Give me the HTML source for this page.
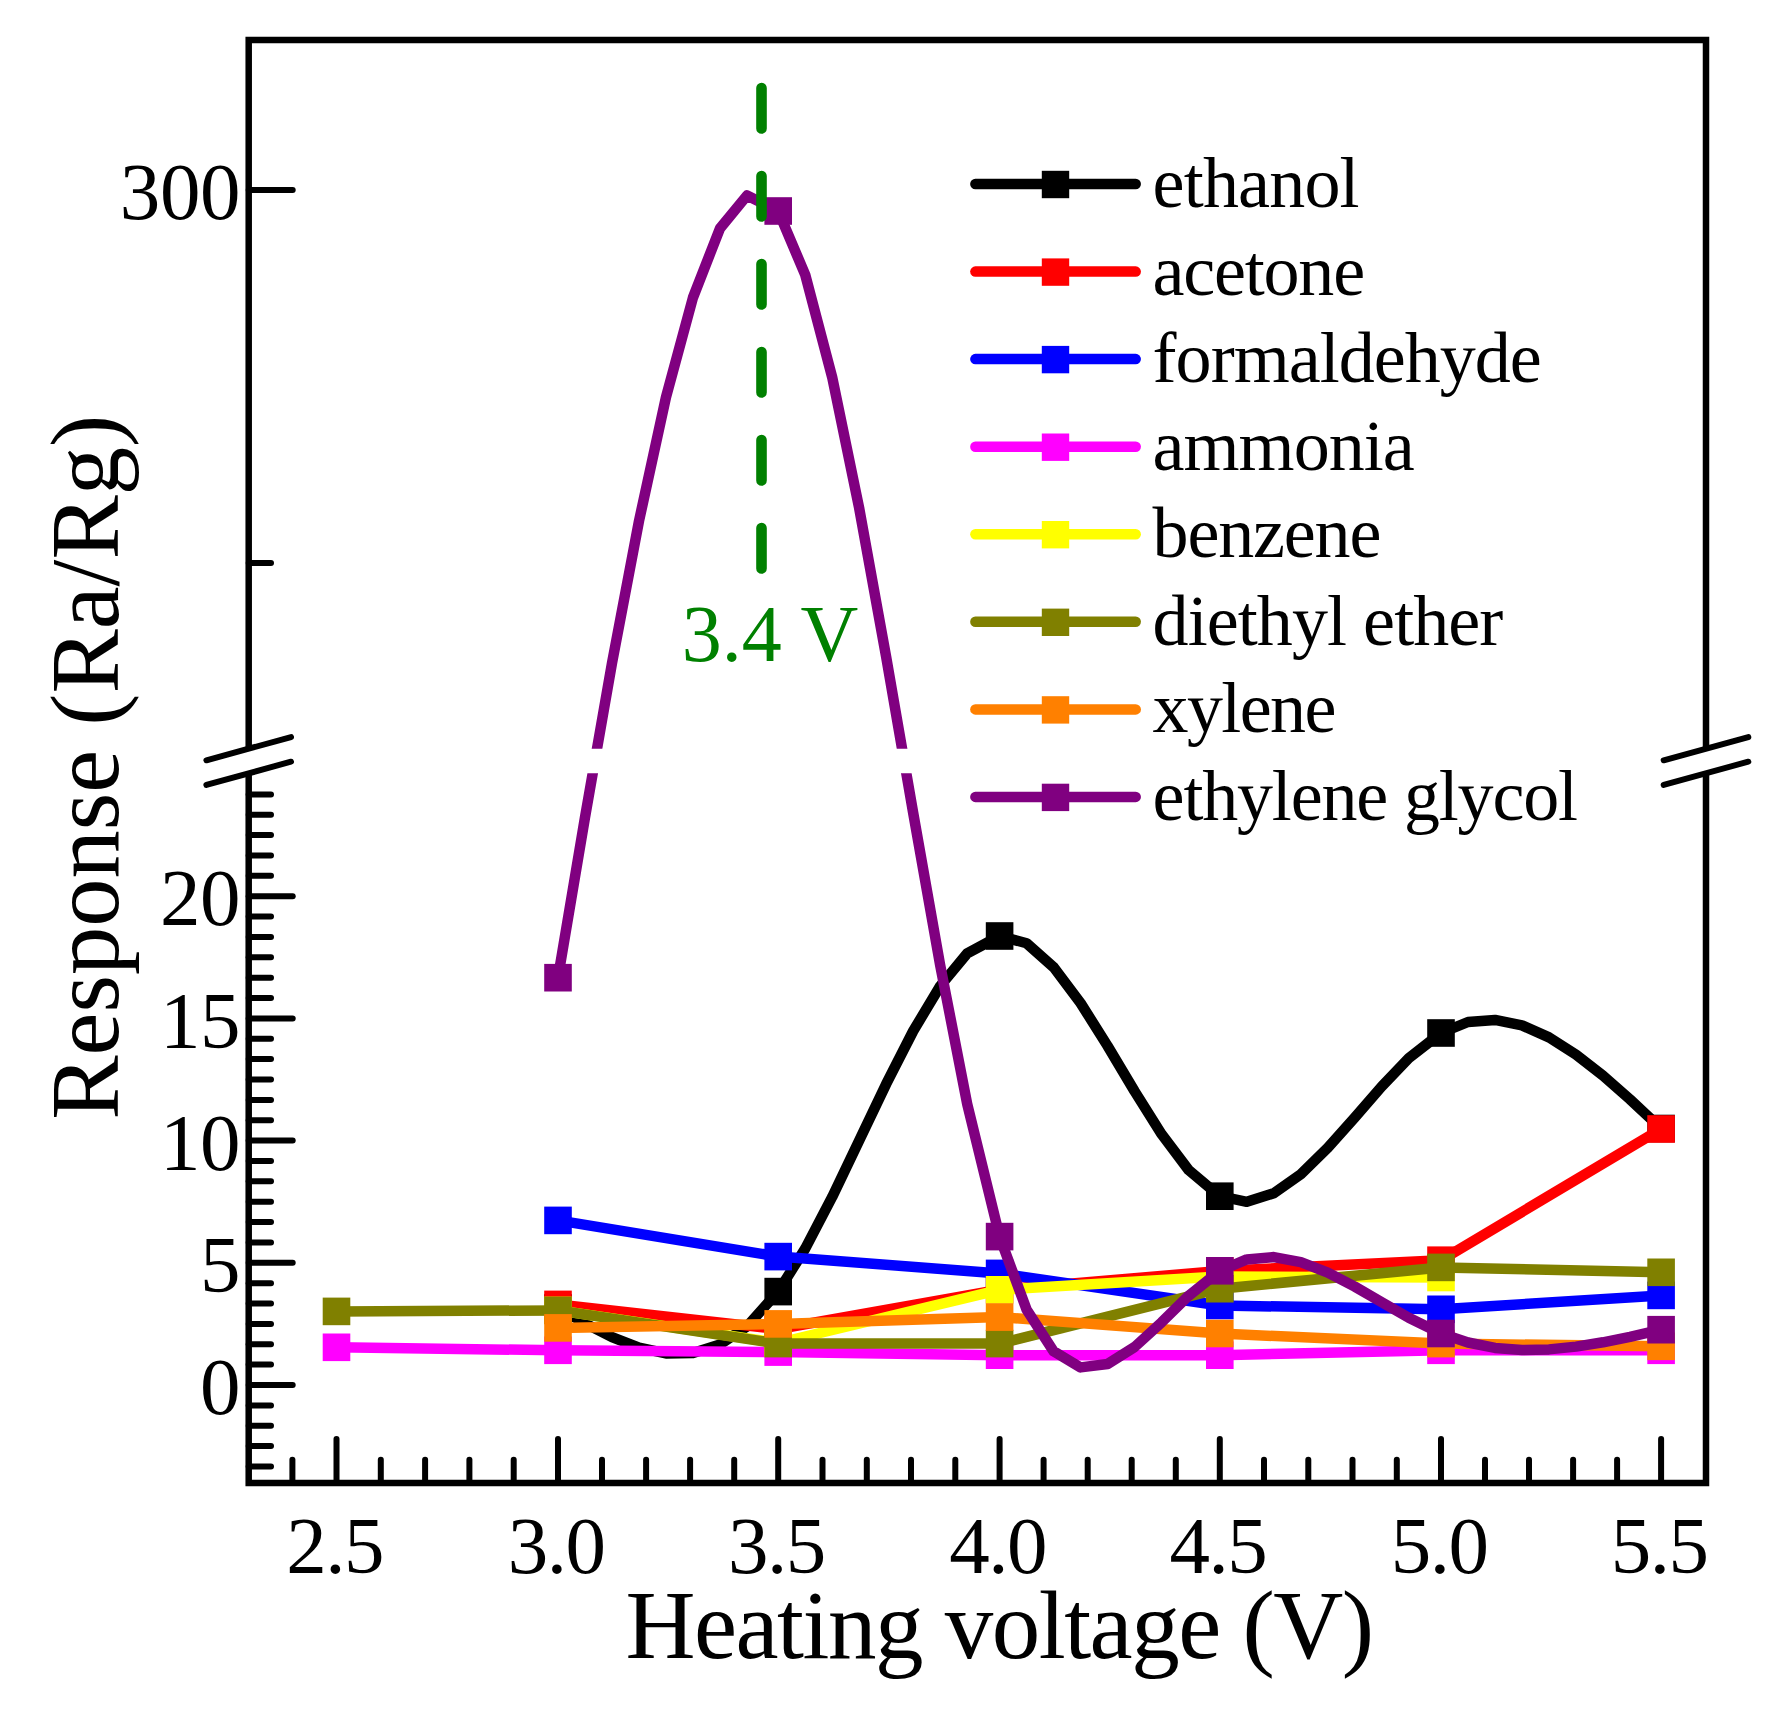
<!DOCTYPE html>
<html lang="en"><head><meta charset="utf-8"><title>Response vs heating voltage</title>
<style>html,body{margin:0;padding:0;background:#fff}svg{display:block}</style></head>
<body>
<svg width="1785" height="1709" viewBox="0 0 1785 1709" style="display:block">
<rect width="1785" height="1709" fill="#fff"/>
<defs><clipPath id="cp"><rect x="248.7" y="40.0" width="1457.3" height="708.7"/><rect x="248.7" y="773.3" width="1457.3" height="709.7"/></clipPath></defs>
<g clip-path="url(#cp)">
<polyline points="558.0,1308.0 585.0,1323.3 612.0,1337.1 639.0,1347.6 666.0,1353.4 693.0,1352.9 720.0,1344.4 747.0,1326.4 778.2,1291.6 805.2,1248.6 832.2,1196.9 859.2,1140.6 886.2,1083.9 913.2,1031.0 940.2,986.0 967.2,953.3 999.6,936.0 1026.6,943.3 1053.6,967.2 1080.6,1003.1 1107.6,1046.0 1134.6,1091.3 1161.6,1134.2 1188.6,1170.0 1219.8,1196.2 1246.8,1201.8 1273.8,1193.3 1300.8,1174.2 1327.8,1147.7 1354.8,1117.4 1381.8,1086.4 1408.8,1058.2 1441.0,1033.0 1468.0,1022.0 1495.0,1019.9 1522.0,1025.4 1549.0,1037.4 1576.0,1054.6 1603.0,1075.6 1630.0,1099.4 1661.1,1128.5" fill="none" stroke="#000000" stroke-width="10.5" stroke-linejoin="round" stroke-linecap="butt"/>
<rect x="544.2" y="1294.2" width="27.6" height="27.6" fill="#000000"/>
<rect x="764.4" y="1277.8" width="27.6" height="27.6" fill="#000000"/>
<rect x="985.8" y="922.2" width="27.6" height="27.6" fill="#000000"/>
<rect x="1206.0" y="1182.4" width="27.6" height="27.6" fill="#000000"/>
<rect x="1427.2" y="1019.2" width="27.6" height="27.6" fill="#000000"/>
<rect x="1647.3" y="1114.7" width="27.6" height="27.6" fill="#000000"/>
<polyline points="558.0,1304.4 778.2,1329.0 999.6,1289.6 1219.8,1271.0 1441.0,1260.2 1661.1,1129.0" fill="none" stroke="#ff0000" stroke-width="10.5" stroke-linejoin="round" stroke-linecap="butt"/>
<rect x="544.2" y="1290.6" width="27.6" height="27.6" fill="#ff0000"/>
<rect x="764.4" y="1315.2" width="27.6" height="27.6" fill="#ff0000"/>
<rect x="985.8" y="1275.8" width="27.6" height="27.6" fill="#ff0000"/>
<rect x="1206.0" y="1257.2" width="27.6" height="27.6" fill="#ff0000"/>
<rect x="1427.2" y="1246.4" width="27.6" height="27.6" fill="#ff0000"/>
<rect x="1647.3" y="1115.2" width="27.6" height="27.6" fill="#ff0000"/>
<polyline points="558.0,1220.4 778.2,1256.6 999.6,1273.4 1219.8,1305.5 1441.0,1309.3 1661.1,1295.4" fill="none" stroke="#0000ff" stroke-width="10.5" stroke-linejoin="round" stroke-linecap="butt"/>
<rect x="544.2" y="1206.6" width="27.6" height="27.6" fill="#0000ff"/>
<rect x="764.4" y="1242.8" width="27.6" height="27.6" fill="#0000ff"/>
<rect x="985.8" y="1259.6" width="27.6" height="27.6" fill="#0000ff"/>
<rect x="1206.0" y="1291.7" width="27.6" height="27.6" fill="#0000ff"/>
<rect x="1427.2" y="1295.5" width="27.6" height="27.6" fill="#0000ff"/>
<rect x="1647.3" y="1281.6" width="27.6" height="27.6" fill="#0000ff"/>
<polyline points="336.5,1347.3 558.0,1350.3 778.2,1352.1 999.6,1355.2 1219.8,1355.2 1441.0,1350.3 1661.1,1350.3" fill="none" stroke="#ff00ff" stroke-width="10.5" stroke-linejoin="round" stroke-linecap="butt"/>
<rect x="322.7" y="1333.5" width="27.6" height="27.6" fill="#ff00ff"/>
<rect x="544.2" y="1336.5" width="27.6" height="27.6" fill="#ff00ff"/>
<rect x="764.4" y="1338.3" width="27.6" height="27.6" fill="#ff00ff"/>
<rect x="985.8" y="1341.4" width="27.6" height="27.6" fill="#ff00ff"/>
<rect x="1206.0" y="1341.4" width="27.6" height="27.6" fill="#ff00ff"/>
<rect x="1427.2" y="1336.5" width="27.6" height="27.6" fill="#ff00ff"/>
<rect x="1647.3" y="1336.5" width="27.6" height="27.6" fill="#ff00ff"/>
<polyline points="558.0,1310.4 778.2,1343.0 999.6,1289.8 1219.8,1276.5 1441.0,1277.5" fill="none" stroke="#ffff00" stroke-width="10.5" stroke-linejoin="round" stroke-linecap="butt"/>
<rect x="544.2" y="1296.6" width="27.6" height="27.6" fill="#ffff00"/>
<rect x="764.4" y="1329.2" width="27.6" height="27.6" fill="#ffff00"/>
<rect x="985.8" y="1276.0" width="27.6" height="27.6" fill="#ffff00"/>
<rect x="1206.0" y="1262.7" width="27.6" height="27.6" fill="#ffff00"/>
<rect x="1427.2" y="1263.7" width="27.6" height="27.6" fill="#ffff00"/>
<polyline points="336.5,1311.4 558.0,1310.4 778.2,1343.6 999.6,1343.6 1219.8,1288.7 1441.0,1267.4 1661.1,1272.3" fill="none" stroke="#808000" stroke-width="10.5" stroke-linejoin="round" stroke-linecap="butt"/>
<rect x="322.7" y="1297.6" width="27.6" height="27.6" fill="#808000"/>
<rect x="544.2" y="1296.6" width="27.6" height="27.6" fill="#808000"/>
<rect x="764.4" y="1329.8" width="27.6" height="27.6" fill="#808000"/>
<rect x="985.8" y="1329.8" width="27.6" height="27.6" fill="#808000"/>
<rect x="1206.0" y="1274.9" width="27.6" height="27.6" fill="#808000"/>
<rect x="1427.2" y="1253.6" width="27.6" height="27.6" fill="#808000"/>
<rect x="1647.3" y="1258.5" width="27.6" height="27.6" fill="#808000"/>
<polyline points="558.0,1327.9 778.2,1323.9 999.6,1317.1 1219.8,1333.5 1441.0,1343.6 1661.1,1346.3" fill="none" stroke="#ff8000" stroke-width="10.5" stroke-linejoin="round" stroke-linecap="butt"/>
<rect x="544.2" y="1314.1" width="27.6" height="27.6" fill="#ff8000"/>
<rect x="764.4" y="1310.1" width="27.6" height="27.6" fill="#ff8000"/>
<rect x="985.8" y="1303.3" width="27.6" height="27.6" fill="#ff8000"/>
<rect x="1206.0" y="1319.7" width="27.6" height="27.6" fill="#ff8000"/>
<rect x="1427.2" y="1329.8" width="27.6" height="27.6" fill="#ff8000"/>
<rect x="1647.3" y="1332.5" width="27.6" height="27.6" fill="#ff8000"/>
<polyline points="558.0,977.7 585.0,817.4 612.0,663.1 639.0,521.0 666.0,397.1 693.0,297.5 720.0,228.3 747.0,195.5 778.2,211.0 805.2,274.7 832.2,377.3 859.2,508.3 886.2,657.1 913.2,813.0 940.2,965.4 967.2,1103.9 999.6,1236.6 1026.6,1309.6 1053.6,1351.3 1080.6,1367.4 1107.6,1364.0 1134.6,1347.0 1161.6,1322.3 1188.6,1295.8 1219.8,1270.8 1246.8,1259.4 1273.8,1257.1 1300.8,1262.1 1327.8,1272.6 1354.8,1286.6 1381.8,1302.3 1408.8,1317.8 1441.0,1333.5 1468.0,1342.5 1495.0,1347.9 1522.0,1350.0 1549.0,1349.4 1576.0,1346.6 1603.0,1342.3 1630.0,1336.8 1661.1,1329.7" fill="none" stroke="#800080" stroke-width="10.5" stroke-linejoin="round" stroke-linecap="butt"/>
<rect x="544.2" y="963.9" width="27.6" height="27.6" fill="#800080"/>
<rect x="764.4" y="197.2" width="27.6" height="27.6" fill="#800080"/>
<rect x="985.8" y="1222.8" width="27.6" height="27.6" fill="#800080"/>
<rect x="1206.0" y="1257.0" width="27.6" height="27.6" fill="#800080"/>
<rect x="1427.2" y="1319.7" width="27.6" height="27.6" fill="#800080"/>
<rect x="1647.3" y="1315.9" width="27.6" height="27.6" fill="#800080"/>
</g>
<line x1="761.5" y1="88.1" x2="761.5" y2="568.6" stroke="#008000" stroke-width="10.6" stroke-linecap="round" stroke-dasharray="40.4 47.6"/>
<g stroke="#000" stroke-width="6.5" fill="none" stroke-linecap="butt">
<path d="M248.7 748.7 V40.0 H1706.0 V748.7" stroke-linejoin="miter"/>
<path d="M248.7 773.3 V1483.0 H1706.0 V773.3" stroke-linejoin="miter"/>
</g>
<g stroke="#000" stroke-width="6" stroke-linecap="round">
<line x1="336.5" y1="1483.0" x2="336.5" y2="1439.0"/>
<line x1="380.8" y1="1483.0" x2="380.8" y2="1459.7"/>
<line x1="425.1" y1="1483.0" x2="425.1" y2="1459.7"/>
<line x1="469.4" y1="1483.0" x2="469.4" y2="1459.7"/>
<line x1="513.7" y1="1483.0" x2="513.7" y2="1459.7"/>
<line x1="558.0" y1="1483.0" x2="558.0" y2="1439.0"/>
<line x1="602.0" y1="1483.0" x2="602.0" y2="1459.7"/>
<line x1="646.1" y1="1483.0" x2="646.1" y2="1459.7"/>
<line x1="690.1" y1="1483.0" x2="690.1" y2="1459.7"/>
<line x1="734.2" y1="1483.0" x2="734.2" y2="1459.7"/>
<line x1="778.2" y1="1483.0" x2="778.2" y2="1439.0"/>
<line x1="822.5" y1="1483.0" x2="822.5" y2="1459.7"/>
<line x1="866.8" y1="1483.0" x2="866.8" y2="1459.7"/>
<line x1="911.0" y1="1483.0" x2="911.0" y2="1459.7"/>
<line x1="955.3" y1="1483.0" x2="955.3" y2="1459.7"/>
<line x1="999.6" y1="1483.0" x2="999.6" y2="1439.0"/>
<line x1="1043.6" y1="1483.0" x2="1043.6" y2="1459.7"/>
<line x1="1087.7" y1="1483.0" x2="1087.7" y2="1459.7"/>
<line x1="1131.7" y1="1483.0" x2="1131.7" y2="1459.7"/>
<line x1="1175.8" y1="1483.0" x2="1175.8" y2="1459.7"/>
<line x1="1219.8" y1="1483.0" x2="1219.8" y2="1439.0"/>
<line x1="1264.0" y1="1483.0" x2="1264.0" y2="1459.7"/>
<line x1="1308.3" y1="1483.0" x2="1308.3" y2="1459.7"/>
<line x1="1352.5" y1="1483.0" x2="1352.5" y2="1459.7"/>
<line x1="1396.8" y1="1483.0" x2="1396.8" y2="1459.7"/>
<line x1="1441.0" y1="1483.0" x2="1441.0" y2="1439.0"/>
<line x1="1485.0" y1="1483.0" x2="1485.0" y2="1459.7"/>
<line x1="1529.0" y1="1483.0" x2="1529.0" y2="1459.7"/>
<line x1="1573.1" y1="1483.0" x2="1573.1" y2="1459.7"/>
<line x1="1617.1" y1="1483.0" x2="1617.1" y2="1459.7"/>
<line x1="1661.1" y1="1483.0" x2="1661.1" y2="1439.0"/>
<line x1="292.4" y1="1483.0" x2="292.4" y2="1459.7"/>
<line x1="248.7" y1="1466.5" x2="271.0" y2="1466.5"/>
<line x1="248.7" y1="1446.1" x2="271.0" y2="1446.1"/>
<line x1="248.7" y1="1425.7" x2="271.0" y2="1425.7"/>
<line x1="248.7" y1="1405.4" x2="271.0" y2="1405.4"/>
<line x1="248.7" y1="1385.0" x2="292.7" y2="1385.0"/>
<line x1="248.7" y1="1364.6" x2="271.0" y2="1364.6"/>
<line x1="248.7" y1="1344.3" x2="271.0" y2="1344.3"/>
<line x1="248.7" y1="1323.9" x2="271.0" y2="1323.9"/>
<line x1="248.7" y1="1303.5" x2="271.0" y2="1303.5"/>
<line x1="248.7" y1="1283.2" x2="271.0" y2="1283.2"/>
<line x1="248.7" y1="1262.8" x2="292.7" y2="1262.8"/>
<line x1="248.7" y1="1242.4" x2="271.0" y2="1242.4"/>
<line x1="248.7" y1="1222.1" x2="271.0" y2="1222.1"/>
<line x1="248.7" y1="1201.7" x2="271.0" y2="1201.7"/>
<line x1="248.7" y1="1181.3" x2="271.0" y2="1181.3"/>
<line x1="248.7" y1="1161.0" x2="271.0" y2="1161.0"/>
<line x1="248.7" y1="1140.6" x2="292.7" y2="1140.6"/>
<line x1="248.7" y1="1120.2" x2="271.0" y2="1120.2"/>
<line x1="248.7" y1="1099.9" x2="271.0" y2="1099.9"/>
<line x1="248.7" y1="1079.5" x2="271.0" y2="1079.5"/>
<line x1="248.7" y1="1059.1" x2="271.0" y2="1059.1"/>
<line x1="248.7" y1="1038.8" x2="271.0" y2="1038.8"/>
<line x1="248.7" y1="1018.4" x2="292.7" y2="1018.4"/>
<line x1="248.7" y1="998.0" x2="271.0" y2="998.0"/>
<line x1="248.7" y1="977.7" x2="271.0" y2="977.7"/>
<line x1="248.7" y1="957.3" x2="271.0" y2="957.3"/>
<line x1="248.7" y1="936.9" x2="271.0" y2="936.9"/>
<line x1="248.7" y1="916.6" x2="271.0" y2="916.6"/>
<line x1="248.7" y1="896.2" x2="292.7" y2="896.2"/>
<line x1="248.7" y1="875.8" x2="271.0" y2="875.8"/>
<line x1="248.7" y1="855.5" x2="271.0" y2="855.5"/>
<line x1="248.7" y1="835.1" x2="271.0" y2="835.1"/>
<line x1="248.7" y1="814.7" x2="271.0" y2="814.7"/>
<line x1="248.7" y1="794.4" x2="271.0" y2="794.4"/>
<line x1="248.7" y1="190" x2="292.7" y2="190"/>
<line x1="248.7" y1="563" x2="271.0" y2="563"/>
<line x1="206.4" y1="760.3" x2="291.0" y2="737.1"/>
<line x1="206.4" y1="784.9" x2="291.0" y2="761.7"/>
<line x1="1663.7" y1="760.3" x2="1748.3" y2="737.1"/>
<line x1="1663.7" y1="784.9" x2="1748.3" y2="761.7"/>
</g>
<g font-family="'Liberation Serif', 'Times New Roman', serif" fill="#000">
<g font-size="81" text-anchor="end" letter-spacing="-0.3">
<text x="240.3" y="219.1">300</text>
<text x="240.3" y="925.3">20</text>
<text x="240.3" y="1047.5">15</text>
<text x="240.3" y="1169.7">10</text>
<text x="240.3" y="1291.9">5</text>
<text x="240.3" y="1414.1">0</text>
</g>
<g font-size="81" text-anchor="middle" letter-spacing="-1.5">
<text x="334.6" y="1573.1">2.5</text>
<text x="556.1" y="1573.1">3.0</text>
<text x="776.3" y="1573.1">3.5</text>
<text x="997.7" y="1573.1">4.0</text>
<text x="1217.9" y="1573.1">4.5</text>
<text x="1439.1" y="1573.1">5.0</text>
<text x="1659.2" y="1573.1">5.5</text>
</g>
<text x="999" y="1657.6" font-size="97" letter-spacing="-1.5" text-anchor="middle">Heating voltage (V)</text>
<text transform="translate(118,767.3) rotate(-90)" font-size="96.5" text-anchor="middle">Response (Ra/Rg)</text>
<text x="770" y="660.7" font-size="80" text-anchor="middle" fill="#008000">3.4 V</text>
<g font-size="72">
<line x1="975.4" y1="184.0" x2="1135.7" y2="184.0" stroke="#000000" stroke-width="10.5" stroke-linecap="round"/>
<rect x="1041.8" y="170.8" width="27.4" height="27.4" fill="#000000"/>
<text x="1152.6" y="207.0" letter-spacing="-0.82">ethanol</text>
<line x1="975.4" y1="271.6" x2="1135.7" y2="271.6" stroke="#ff0000" stroke-width="10.5" stroke-linecap="round"/>
<rect x="1041.8" y="258.4" width="27.4" height="27.4" fill="#ff0000"/>
<text x="1152.6" y="294.6" letter-spacing="-1.22">acetone</text>
<line x1="975.4" y1="359.1" x2="1135.7" y2="359.1" stroke="#0000ff" stroke-width="10.5" stroke-linecap="round"/>
<rect x="1041.8" y="345.9" width="27.4" height="27.4" fill="#0000ff"/>
<text x="1152.6" y="382.1" letter-spacing="-0.97">formaldehyde</text>
<line x1="975.4" y1="446.7" x2="1135.7" y2="446.7" stroke="#ff00ff" stroke-width="10.5" stroke-linecap="round"/>
<rect x="1041.8" y="433.5" width="27.4" height="27.4" fill="#ff00ff"/>
<text x="1152.6" y="469.7" letter-spacing="-0.97">ammonia</text>
<line x1="975.4" y1="534.2" x2="1135.7" y2="534.2" stroke="#ffff00" stroke-width="10.5" stroke-linecap="round"/>
<rect x="1041.8" y="521.0" width="27.4" height="27.4" fill="#ffff00"/>
<text x="1152.6" y="557.2" letter-spacing="-1.17">benzene</text>
<line x1="975.4" y1="621.8" x2="1135.7" y2="621.8" stroke="#808000" stroke-width="10.5" stroke-linecap="round"/>
<rect x="1041.8" y="608.6" width="27.4" height="27.4" fill="#808000"/>
<text x="1152.6" y="644.8" letter-spacing="-0.93">diethyl ether</text>
<line x1="975.4" y1="709.4" x2="1135.7" y2="709.4" stroke="#ff8000" stroke-width="10.5" stroke-linecap="round"/>
<rect x="1041.8" y="696.2" width="27.4" height="27.4" fill="#ff8000"/>
<text x="1152.6" y="732.4" letter-spacing="-1.62">xylene</text>
<line x1="975.4" y1="796.9" x2="1135.7" y2="796.9" stroke="#800080" stroke-width="10.5" stroke-linecap="round"/>
<rect x="1041.8" y="783.7" width="27.4" height="27.4" fill="#800080"/>
<text x="1152.6" y="819.9" letter-spacing="-1.17">ethylene glycol</text>
</g>
</g>
</svg>
</body></html>
